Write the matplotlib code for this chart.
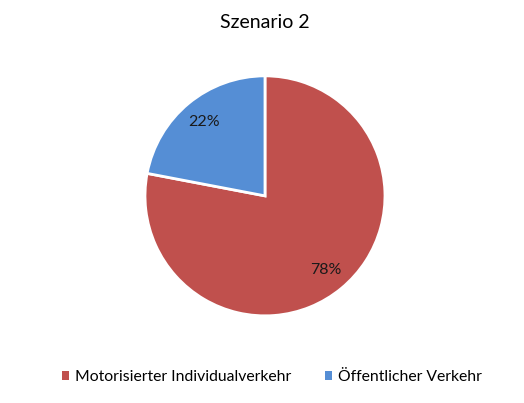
import matplotlib
matplotlib.use("Agg")
import matplotlib.pyplot as plt
from matplotlib.patches import Patch

plt.rcParams['font.family'] = ['Lato', 'DejaVu Sans']

labels = ["Motorisierter Individualverkehr", "Öffentlicher Verkehr"]
shares = [78, 22]
colors = ["#C0504D", "#558ED5"]

fig = plt.figure(figsize=(5.24, 4.03), dpi=100)
ax = fig.add_axes([0.2767, 0.216, 0.458, 0.596])
ax.pie(shares, colors=colors, startangle=90, counterclock=False,
       autopct='%1.0f%%', pctdistance=0.8,
       wedgeprops=dict(edgecolor='white', linewidth=2),
       textprops=dict(fontsize=11.5, color='#1a1a1a'))
ax.set_xlim(-1, 1)
ax.set_ylim(-1, 1)
ax.set_aspect('equal')

fig.text(0.506, 0.945, "Szenario 2", ha='center', va='center', fontsize=14)

handles = [Patch(facecolor=c, edgecolor='none') for c in colors]
fig.legend(handles, labels, loc='center', bbox_to_anchor=(0.519, 0.064),
           ncol=2, frameon=False, fontsize=11.3, handlelength=0.45, handleheight=0.45,
           handletextpad=0.4, columnspacing=2.1)

fig.savefig("out.png", dpi=100)
